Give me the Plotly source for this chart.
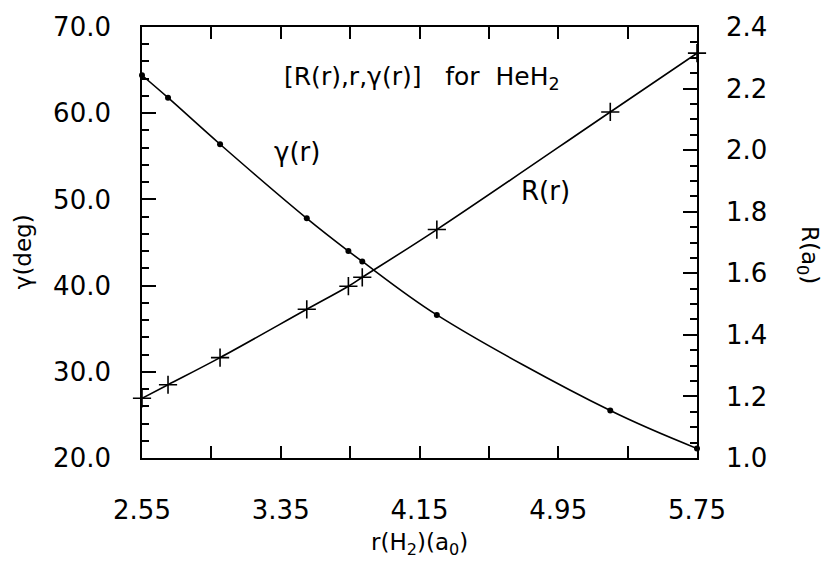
import plotly.graph_objects as go

# r(H2) values (a0)
r_vals = [2.55, 2.70, 3.00, 3.50, 3.74, 3.82, 4.25, 5.25, 5.75]
# gamma(r) in degrees
gamma_vals = [64.4, 61.8, 56.4, 47.8, 44.0, 42.8, 36.6, 25.5, 21.1]
# R(r) in a0
R_vals = [1.194, 1.238, 1.326, 1.483, 1.558, 1.587, 1.742, 2.124, 2.315]

FONT = "DejaVu Sans"
BLACK = "black"

fig = go.Figure()

fig.add_trace(go.Scatter(
    x=r_vals, y=gamma_vals, mode="lines+markers",
    line=dict(color=BLACK, width=1.6, shape="spline"),
    marker=dict(symbol="circle", size=6, color=BLACK),
    cliponaxis=False, showlegend=False,
))
fig.add_trace(go.Scatter(
    x=r_vals, y=R_vals, mode="lines+markers", yaxis="y2",
    line=dict(color=BLACK, width=1.6, shape="spline"),
    marker=dict(symbol="cross-thin", size=13, color=BLACK,
                line=dict(color=BLACK, width=1.6)),
    cliponaxis=False, showlegend=False,
))

tickfont = dict(family=FONT, size=26, color=BLACK)

fig.update_layout(
    width=828, height=565,
    margin=dict(l=142, r=131, t=22, b=107),
    paper_bgcolor="white", plot_bgcolor="white",
    xaxis=dict(
        range=[2.55, 5.75], tick0=2.55, dtick=0.8, tickformat=".2f",
        ticks="inside", ticklen=12, tickwidth=1.5, tickcolor=BLACK,
        minor=dict(dtick=0.4, tick0=2.55, ticks="inside", ticklen=12, tickwidth=1.5, tickcolor=BLACK),
        showline=True, linecolor=BLACK, linewidth=1.6, mirror="ticks",
        showgrid=False, zeroline=False, tickfont=tickfont, ticklabelstandoff=28,
    ),
    yaxis=dict(
        range=[20, 70], tick0=20, dtick=10, tickformat=".1f",
        ticks="inside", ticklen=14, tickwidth=1.5, tickcolor=BLACK,
        minor=dict(dtick=2, tick0=20, ticks="inside", ticklen=7, tickwidth=1.5, tickcolor=BLACK),
        showline=True, linecolor=BLACK, linewidth=1.6,
        showgrid=False, zeroline=False, tickfont=tickfont, ticklabelstandoff=24,
    ),
    yaxis2=dict(
        range=[1.0, 2.4], tick0=1.0, dtick=0.2, tickformat=".1f",
        overlaying="y", side="right",
        ticks="inside", ticklen=14, tickwidth=1.5, tickcolor=BLACK,
        minor=dict(dtick=0.05, tick0=1.0, ticks="inside", ticklen=7, tickwidth=1.5, tickcolor=BLACK),
        showline=True, linecolor=BLACK, linewidth=1.6,
        showgrid=False, zeroline=False, tickfont=tickfont, ticklabelstandoff=22,
    ),
)

lab = dict(family=FONT, size=25, color=BLACK)
fig.add_annotation(x=3.359, y=64.1, xref="x", yref="y", xanchor="left", yanchor="middle",
                   text="[R(r),r,γ(r)]\u00a0\u00a0\u00a0for\u00a0\u00a0HeH<sub>2</sub>",
                   showarrow=False, font=lab)
fig.add_annotation(x=3.445, y=55.5, xref="x", yref="y", xanchor="center", yanchor="middle",
                   text="γ(r)", showarrow=False, font=dict(family=FONT, size=26, color=BLACK))
fig.add_annotation(x=4.874, y=51.0, xref="x", yref="y", xanchor="center", yanchor="middle",
                   text="R(r)", showarrow=False, font=dict(family=FONT, size=26, color=BLACK))

title_font = dict(family=FONT, size=23, color=BLACK)
fig.add_annotation(x=0.5, y=-0.20, xref="paper", yref="paper", xanchor="center", yanchor="middle",
                   text="r(H<sub>2</sub>)(a<sub>0</sub>)", showarrow=False, font=title_font)
fig.add_annotation(x=-0.214, y=0.478, xref="paper", yref="paper", xanchor="center", yanchor="middle",
                   text="γ(deg)", textangle=-90, showarrow=False, font=title_font)
fig.add_annotation(x=1.2, y=0.471, xref="paper", yref="paper", xanchor="center", yanchor="middle",
                   text="R(a<sub>0</sub>)", textangle=90, showarrow=False, font=title_font)

fig.write_html("out.html")
